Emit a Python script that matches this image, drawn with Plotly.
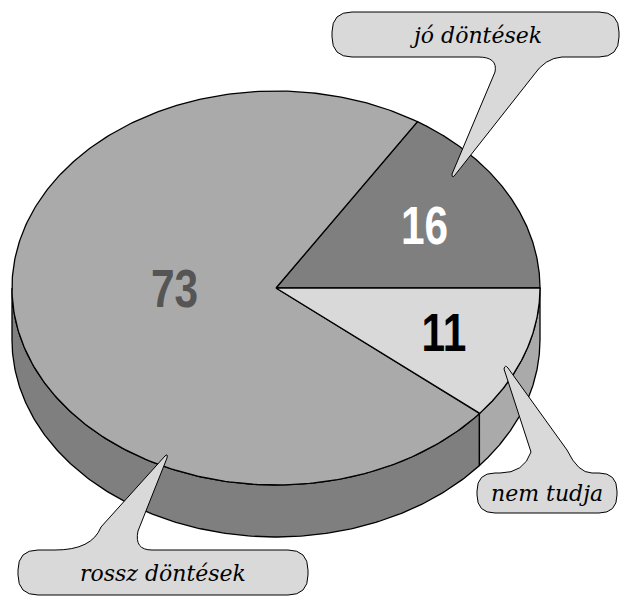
import numpy as np
import plotly.graph_objects as go

# ---- data ----
labels = ["jó döntések", "rossz döntések", "nem tudja"]
values = [16, 73, 11]
value_text = ["16", "73", "11"]

# ---- style / layout ----
top_colors = ["#7f7f7f", "#aaaaaa", "#d9d9d9"]
side_colors = ["#606060", "#7f7f7f", "#aaaaaa"]
value_colors = ["#ffffff", "#555555", "#000000"]
label_xy = [(424, 225), (174, 288), (444, 332)]
W, H = 621, 608
CX, CY, RX, RY, DEPTH = 276, 288, 264, 197, 52
START_DEG = 0.0
OUTLINE = dict(color="black", width=1.3)

def ell(t, dy=0.0):
    return CX + RX * np.cos(t), CY - RY * np.sin(t) + dy

fig = go.Figure()

total = float(sum(values))
bounds = []
a = np.deg2rad(START_DEG)
for v in values:
    b = a + 2 * np.pi * v / total
    bounds.append((a, b))
    a = b

# side walls (front half only)
for (a, b), col in zip(bounds, side_colors):
    for off in (0, 2 * np.pi):
        lo = max(a, np.pi + off)
        hi = min(b, 2 * np.pi + off)
        if lo < hi:
            t = np.linspace(lo, hi, 200)
            x1, y1 = ell(t)
            x2, y2 = ell(t[::-1], DEPTH)
            fig.add_trace(go.Scatter(
                x=np.concatenate([x1, x2, x1[:1]]),
                y=np.concatenate([y1, y2, y1[:1]]),
                mode="lines", fill="toself", fillcolor=col,
                line=OUTLINE, hoverinfo="skip"))

# top faces
for (a, b), col, lab, v in zip(bounds, top_colors, labels, values):
    t = np.linspace(a, b, 300)
    x, y = ell(t)
    fig.add_trace(go.Scatter(
        x=np.concatenate([[CX], x, [CX]]),
        y=np.concatenate([[CY], y, [CY]]),
        mode="lines", fill="toself", fillcolor=col,
        line=OUTLINE, name=lab, hoverinfo="name"))

# value labels
for txt, (lx, ly), c in zip(value_text, label_xy, value_colors):
    fig.add_annotation(x=lx, y=ly, text=f"<b>{txt}</b>", showarrow=False,
                       xanchor="center", yanchor="middle",
                       font=dict(family="Liberation Sans, Arial, sans-serif",
                                 size=53, color=c))

# callout balloons
balloons = [
    "M 352,12 L 599,12 Q 619,12 619,32 L 619,37 Q 619,57 599,57 L 562,57 "
    "Q 545,58 533,76 L 455,175 Q 452,179 452,174 L 495,72 Q 498,57 478,57 "
    "L 352,57 Q 332,57 332,37 L 332,32 Q 332,12 352,12 Z",
    "M 495,473 L 500,473 Q 524,473 531,452 L 504,369 Q 505,364 508,368 "
    "L 567,450 Q 578,473 592,473 L 599,473 Q 617,473 617,491 L 617,495 "
    "Q 617,513 599,513 L 495,513 Q 477,513 477,495 L 477,491 Q 477,473 495,473 Z",
    "M 38,550 L 55,550 Q 92,550 101,527 L 165,456 Q 168,453 167,458 "
    "L 138,531 Q 134,550 152,550 L 288,550 Q 308,550 308,570 L 308,575 "
    "Q 308,595 288,595 L 38,595 Q 18,595 18,575 L 18,570 Q 18,550 38,550 Z",
]
for p in balloons:
    fig.add_shape(type="path", path=p, xref="x", yref="y", layer="above",
                  fillcolor="#d9d9d9", line=dict(color="black", width=1))

callout_xy = {"jó döntések": (475, 35), "nem tudja": (547, 493), "rossz döntések": (163, 573)}
for lab in labels:
    cx, cy = callout_xy[lab]
    fig.add_annotation(x=cx, y=cy, text=f"<i>{lab}</i>", showarrow=False,
                       xanchor="center", yanchor="middle",
                       font=dict(family="DejaVu Serif, serif", size=22, color="black"))

fig.update_layout(
    width=W, height=H, margin=dict(l=0, r=0, t=0, b=0),
    paper_bgcolor="white", plot_bgcolor="white", showlegend=False,
    xaxis=dict(range=[0, W], visible=False, fixedrange=True),
    yaxis=dict(range=[H, 0], visible=False, fixedrange=True),
)

# remove default page margin; condense the bold value numbers horizontally
post = """
document.body.style.margin = '0px';
document.querySelectorAll('g.annotation text').forEach(function (el) {
  if (/^\\d+$/.test(el.textContent.trim())) {
    el.style.transformBox = 'fill-box';
    el.style.transformOrigin = 'center';
    el.style.transform = 'scaleX(0.8)';
  }
});
"""
fig.write_html("out.html", post_script=post, config={"displayModeBar": False})
